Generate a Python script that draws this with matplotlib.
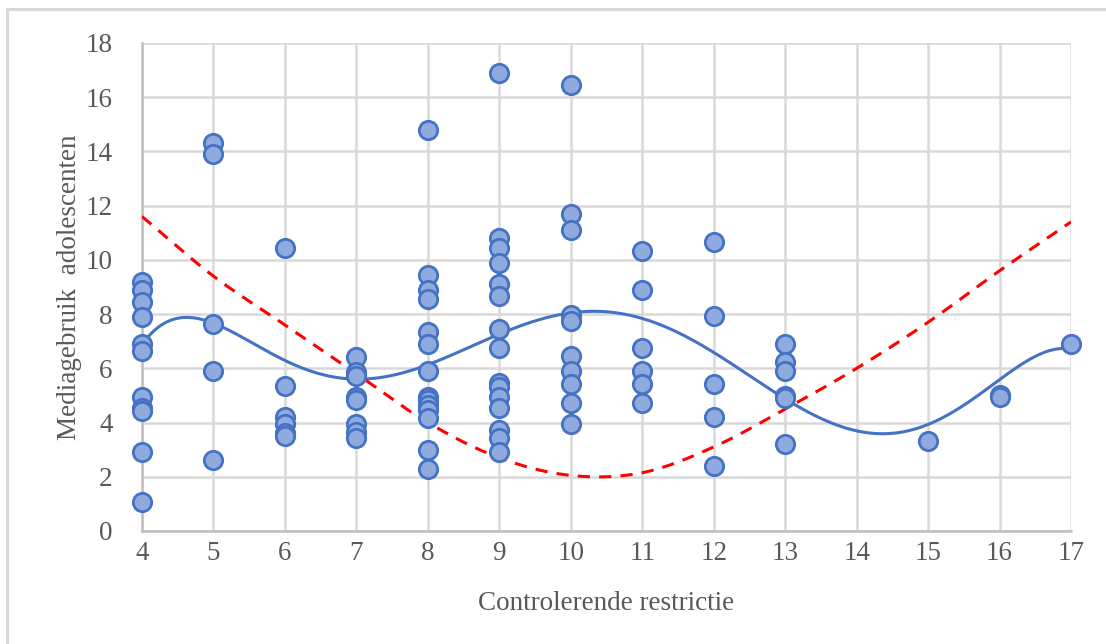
import numpy as np
import matplotlib
matplotlib.use("Agg")
import matplotlib.pyplot as plt
from matplotlib.patches import Rectangle

# ---- data ----
x4 = [4]*11
y4 = [9.2, 8.9, 8.45, 7.9, 6.9, 6.65, 4.95, 4.55, 4.42, 2.93, 1.08]
x5 = [5]*5
y5 = [14.3, 13.92, 7.64, 5.9, 2.62]
x6 = [6]*6
y6 = [10.44, 5.33, 4.2, 3.95, 3.6, 3.5]
x7 = [7]*8
y7 = [6.43, 5.88, 5.7, 4.96, 4.83, 3.95, 3.67, 3.42]
x8 = [8]*14
y8 = [14.8, 9.45, 8.9, 8.55, 7.35, 6.9, 5.9, 4.95, 4.82, 4.65, 4.45, 4.15, 3.0, 2.3]
x9 = [9]*15
y9 = [16.9, 10.8, 10.45, 9.9, 9.1, 8.65, 7.45, 6.75, 5.45, 5.32, 4.96, 4.53, 3.73, 3.42, 2.93]
x10 = [10]*10
y10 = [16.45, 11.7, 11.1, 7.95, 7.75, 6.45, 5.9, 5.42, 4.72, 3.95]
x11 = [11]*6
y11 = [10.33, 8.9, 6.74, 5.9, 5.42, 4.73]
x12 = [12]*5
y12 = [10.65, 7.92, 5.42, 4.2, 2.4]
x13 = [13]*6
y13 = [6.9, 6.25, 5.9, 4.98, 4.9, 3.2]
x_rest = [15, 16, 16, 17]
y_rest = [3.32, 5.02, 4.95, 6.9]

x_data = np.array(x4 + x5 + x6 + x7 + x8 + x9 + x10 + x11 + x12 + x13 + x_rest, dtype=float)
y_data = np.array(y4 + y5 + y6 + y7 + y8 + y9 + y10 + y11 + y12 + y13 + y_rest, dtype=float)

# blue polynomial trendline
trend_x = [4, 4.7, 5, 6, 7, 8, 9, 10, 10.4, 11, 12, 13, 14, 14.4, 15, 16, 17]
trend_y = [6.9, 7.8, 7.7, 6.3, 5.65, 6.1, 7.2, 8.05, 8.15, 7.9, 6.5, 4.9, 3.7, 3.6, 3.9, 5.6, 6.7]

# red dashed curve
red_x = [4, 5, 6, 7, 8, 9, 10, 11, 12, 13, 14, 15, 16, 17]
red_y = [11.6, 9.4, 7.6, 5.8, 4.0, 2.7, 2.05, 2.15, 3.1, 4.5, 6.0, 7.7, 9.6, 11.4]

x_ticks = list(range(4, 18))
y_ticks = list(range(0, 19, 2))


def catmull_rom(px, py, n=40):
    px = np.asarray(px, float)
    py = np.asarray(py, float)
    P = np.column_stack([px, py])
    P = np.vstack([2 * P[0] - P[1], P, 2 * P[-1] - P[-2]])
    out = []
    for i in range(1, len(P) - 2):
        p0, p1, p2, p3 = P[i - 1], P[i], P[i + 1], P[i + 2]
        t = np.linspace(0, 1, n, endpoint=False)[:, None]
        seg = 0.5 * ((2 * p1) + (-p0 + p2) * t + (2 * p0 - 5 * p1 + 4 * p2 - p3) * t ** 2
                     + (-p0 + 3 * p1 - 3 * p2 + p3) * t ** 3)
        out.append(seg)
    out.append(P[-2][None, :])
    out = np.vstack(out)
    return out[:, 0], out[:, 1]


# ---- figure ----
plt.rcParams['font.family'] = ['Liberation Serif', 'DejaVu Serif']
fig = plt.figure(figsize=(11.06, 6.44), dpi=100)
fig.patch.set_facecolor('white')
fig.patches.append(Rectangle((7/1106, -0.1), 1.2, 1 - 9/644 + 0.1, transform=fig.transFigure,
                             fill=False, edgecolor='#d9d9d9', linewidth=2.2))

ax = fig.add_axes([142/1106, 1 - 531/644, (1071-142)/1106, (531-43)/644])
ax.set_xlim(4, 17)
ax.set_ylim(0, 18)
ax.set_xticks(x_ticks)
ax.set_yticks(y_ticks)
ax.grid(True, color='#d9d9d9', linewidth=1.8)
ax.set_axisbelow(True)
for s in ['top', 'right']:
    ax.spines[s].set_visible(False)
for s in ['left', 'bottom']:
    ax.spines[s].set_color('#bfbfbf')
    ax.spines[s].set_linewidth(1.8)
ax.tick_params(length=0, labelsize=19.5, colors='#595959', pad=7)
ax.tick_params(axis='y', pad=21)

# smooth trend lines
xs = np.linspace(4, 17, 400)
pb = np.polyfit(trend_x, trend_y, 6)
ax.plot(xs, np.polyval(pb, xs), color='#4472C4', linewidth=2.2, zorder=4)
rx, ry = catmull_rom(red_x, red_y)
ax.plot(rx, ry, color='#FF0000', linewidth=2.2, linestyle=(0, (4, 3)), zorder=4)

ax.scatter(x_data, y_data, s=175, facecolor='#8FAADC', edgecolor='#4472C4', linewidth=2.0,
           zorder=5, clip_on=False)

ax.set_xlabel('Controlerende restrictie', fontsize=19.5, color='#595959', labelpad=18)
ax.set_ylabel('Mediagebruik  adolescenten', fontsize=19.5, color='#595959', labelpad=3)

fig.savefig('out.png', dpi=100, facecolor='white')
